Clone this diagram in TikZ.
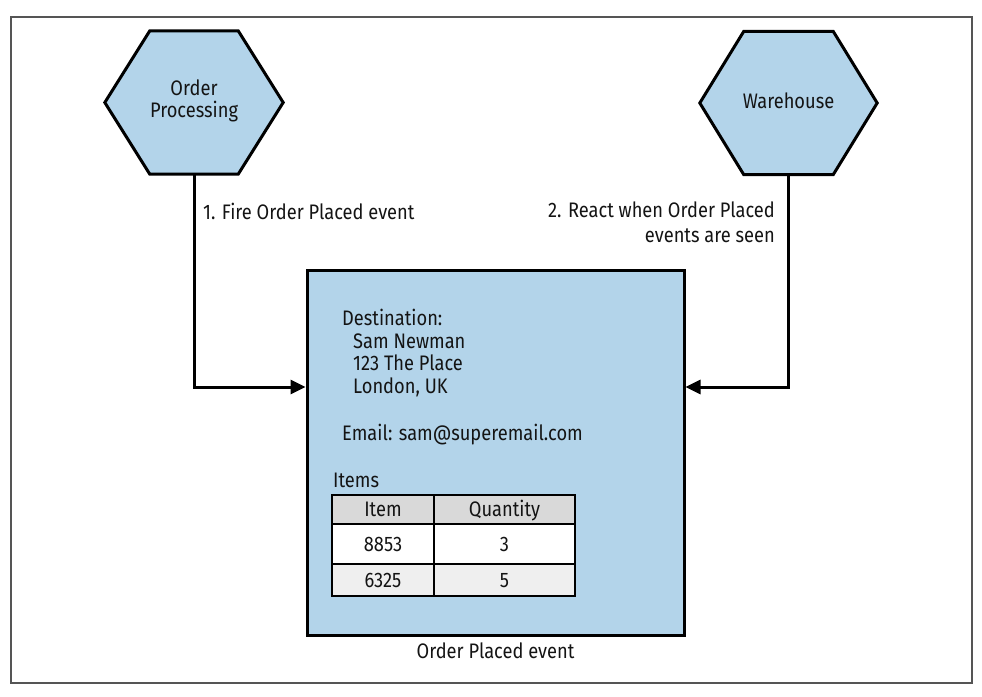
\documentclass[tikz,border=0pt]{standalone}
\usepackage{fontspec}
\setmainfont{Fira Sans}[FakeStretch=0.87]
\usetikzlibrary{arrows.meta}
\definecolor{boxblue}{HTML}{B3D4EA}
\definecolor{hdrgray}{HTML}{D9D9D9}
\definecolor{rowgray}{HTML}{EFEFEF}
\definecolor{framegray}{HTML}{555555}
\definecolor{ink}{HTML}{141414}
\begin{document}
\begin{tikzpicture}[x=1pt,y=-1pt,
  txt/.style={inner sep=0pt, text=ink, font=\fontsize{21}{24}\selectfont},
  hexshape/.style={draw=black, line width=3pt, fill=boxblue, line join=miter},
  hexholder/.style={inner sep=0pt, minimum width=#1, minimum height=143pt},
  arr/.style={draw=black, line width=3pt, -{Triangle[length=15pt,width=14pt]}},
  eventbox/.style={draw=black, line width=3pt, fill=boxblue, inner sep=0pt},
  cell/.style={txt, draw=black, line width=2.5pt, text height=14pt, text depth=0pt, anchor=center}]
\useasboundingbox (0,0) rectangle (982,696);
\draw[framegray, line width=1.5pt] (11,17) rectangle (972,683);

% hexagons
\node[hexholder=178pt] (op) at (194,102.5) {};
\draw[hexshape] (op.west) -- ([xshift=45pt]op.north west) -- ([xshift=-45pt]op.north east)
  -- (op.east) -- ([xshift=-45pt]op.south east) -- ([xshift=45pt]op.south west) -- cycle;
\node[txt, anchor=base] (opa) at (194,95) {Order};
\node[txt, anchor=base] (opb) at (194,117) {Processing};

\node[hexholder=177pt] (wh) at (788.5,103) {};
\draw[hexshape] (wh.west) -- ([xshift=44pt]wh.north west) -- ([xshift=-44pt]wh.north east)
  -- (wh.east) -- ([xshift=-44pt]wh.south east) -- ([xshift=44pt]wh.south west) -- cycle;
\node[txt, anchor=base] (wha) at (788.5,108) {Warehouse};

% event box
\node[eventbox, minimum width=377pt, minimum height=365pt] (evt) at (495.5,452.5) {};

% connectors
\draw[arr] (op.south) |- ([yshift=65.5pt]evt.west);
\draw[arr] (wh.south) |- ([yshift=65.5pt]evt.east);

% labels
\node[txt, anchor=base west] (l1) at (203,219) {1. Fire Order Placed event};
\node[txt, anchor=base east] (l2a) at (775,217) {2. React when Order Placed};
\node[txt, anchor=base east] (l2b) at (775,242) {events are seen};
\node[txt, anchor=base] (cap) at (495.5,658) {Order Placed event};

% event contents
\node[txt, anchor=base west] (d0) at (342,325) {Destination:};
\node[txt, anchor=base west] (d1) at (353,348) {Sam Newman};
\node[txt, anchor=base west] (d2) at (353,370) {123 The Place};
\node[txt, anchor=base west] (d3) at (353,393) {London, UK};
\node[txt, anchor=base west] (em) at (342,440) {Email: sam@superemail.com};
\node[txt, anchor=base west] (it) at (333,487) {Items};

% table
\node[cell, fill=hdrgray, minimum width=102pt, minimum height=29pt] (h1) at (383,509.5) {Item};
\node[cell, fill=hdrgray, minimum width=141pt, minimum height=29pt] (h2) at (504.5,509.5) {Quantity};
\node[cell, fill=white, minimum width=102pt, minimum height=40pt] (r11) at (383,544) {8853};
\node[cell, fill=white, minimum width=141pt, minimum height=40pt] (r12) at (504.5,544) {3};
\node[cell, fill=rowgray, minimum width=102pt, minimum height=32pt] (r21) at (383,580) {6325};
\node[cell, fill=rowgray, minimum width=141pt, minimum height=32pt] (r22) at (504.5,580) {5};
\end{tikzpicture}
\end{document}
